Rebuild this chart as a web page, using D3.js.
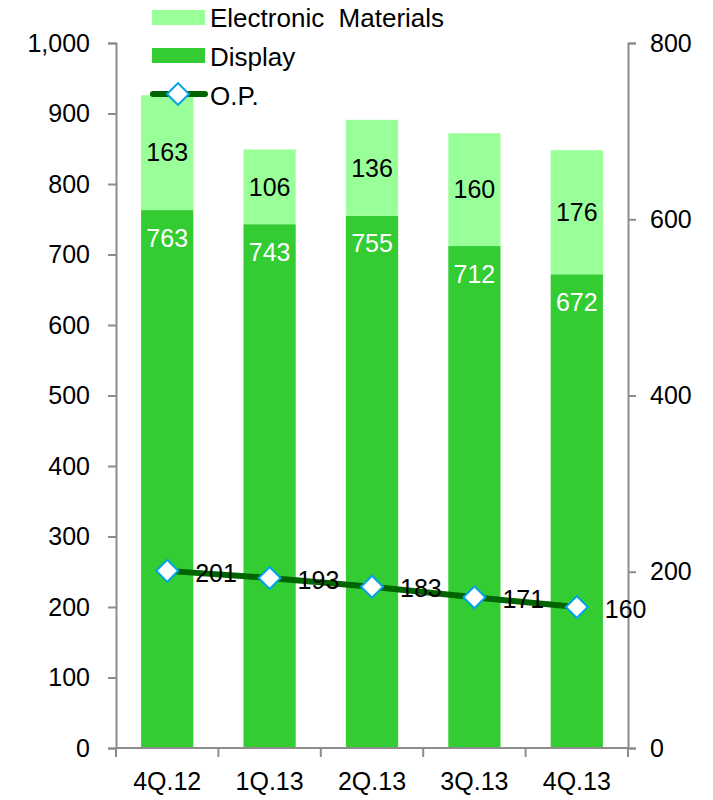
<!DOCTYPE html>
<html>
<head>
<meta charset="utf-8">
<script src="https://cdn.jsdelivr.net/npm/d3@7"></script>
<style>
  body { margin: 0; background: #fff; }
  text { font-family: "Liberation Sans", Arial, sans-serif; }
</style>
</head>
<body>
<svg width="713" height="800"></svg>
<script>
var quarters = ["4Q.12", "1Q.13", "2Q.13", "3Q.13", "4Q.13"];
var display = [763, 743, 755, 712, 672];
var electronic = [163, 106, 136, 160, 176];
var op = [201, 193, 183, 171, 160];
var leftTicks = [0, 100, 200, 300, 400, 500, 600, 700, 800, 900, 1000];
var rightTicks = [0, 200, 400, 600, 800];

var svg = d3.select("svg");
var margin = {top: 43, left: 116, right: 85, bottom: 52},
    width = 713 - margin.left - margin.right,
    height = 800 - margin.top - margin.bottom;
var g = svg.append("g").attr("transform", "translate(" + margin.left + "," + margin.top + ")");

var x = d3.scaleBand().domain(quarters).range([0, width]).paddingInner(0.49).paddingOuter(0.245);
var y = d3.scaleLinear().domain([0, 1000]).range([height, 0]);
var y2 = d3.scaleLinear().domain([0, 800]).range([height, 0]);

var axisColor = "#8c8c8c";
var fs = 25;

// left axis
var la = g.append("g").call(d3.axisLeft(y).tickValues(leftTicks).tickSize(8).tickPadding(18).tickFormat(d3.format(",")));
// right axis
var ra = g.append("g").attr("transform", "translate(" + width + ",0)")
    .call(d3.axisRight(y2).tickValues(rightTicks).tickSize(8).tickPadding(14));
[la, ra].forEach(function(a){
    a.select(".domain").attr("stroke", axisColor).attr("stroke-width", 2);
    a.selectAll(".tick line").attr("stroke", axisColor).attr("stroke-width", 2);
    a.selectAll("text").attr("font-size", fs).attr("fill", "#000").style("font-family", "Liberation Sans, Arial, sans-serif");
});

// bars
var groups = g.append("g").selectAll("g").data(quarters).enter().append("g");
groups.append("rect")
    .attr("x", function(d){ return x(d); })
    .attr("width", x.bandwidth())
    .attr("y", function(d, i){ return y(display[i]); })
    .attr("height", function(d, i){ return y(0) - y(display[i]); })
    .attr("fill", "#33cc33");
groups.append("rect")
    .attr("x", function(d){ return x(d); })
    .attr("width", x.bandwidth())
    .attr("y", function(d, i){ return y(display[i] + electronic[i]); })
    .attr("height", function(d, i){ return y(display[i]) - y(display[i] + electronic[i]); })
    .attr("fill", "#99ff99");

// bar labels
groups.append("text")
    .attr("x", function(d){ return x(d) + x.bandwidth() / 2; })
    .attr("y", function(d, i){ return y(display[i]) + 28; })
    .attr("text-anchor", "middle").attr("dy", "0.35em")
    .attr("font-size", fs).attr("fill", "#fff")
    .text(function(d, i){ return display[i]; });
groups.append("text")
    .attr("x", function(d){ return x(d) + x.bandwidth() / 2; })
    .attr("y", function(d, i){ return y(display[i] + electronic[i] / 2); })
    .attr("text-anchor", "middle").attr("dy", "0.35em")
    .attr("font-size", fs).attr("fill", "#000")
    .text(function(d, i){ return electronic[i]; });

// x axis
var xa = g.append("g").attr("transform", "translate(0," + height + ")");
xa.append("line").attr("x1", 0).attr("x2", width).attr("stroke", axisColor).attr("stroke-width", 2);
var xTickPos = d3.range(quarters.length + 1).map(function(i){ return i * width / quarters.length; });
xa.selectAll(".xt").data(xTickPos).enter().append("line")
    .attr("x1", function(d){ return d; }).attr("x2", function(d){ return d; })
    .attr("y1", 0).attr("y2", 9).attr("stroke", axisColor).attr("stroke-width", 2);
xa.selectAll(".xl").data(quarters).enter().append("text")
    .attr("x", function(d){ return x(d) + x.bandwidth() / 2; })
    .attr("y", 33).attr("dy", "0.35em").attr("text-anchor", "middle")
    .attr("font-size", fs).text(function(d){ return d; });

// O.P. line
var line = d3.line()
    .x(function(d, i){ return x(quarters[i]) + x.bandwidth() / 2; })
    .y(function(d){ return y2(d); });
g.append("path").datum(op).attr("d", line)
    .attr("fill", "none").attr("stroke", "#006400").attr("stroke-width", 6);
var diamond = d3.symbol().type(d3.symbolSquare).size(240);
g.selectAll(".mk").data(op).enter().append("path")
    .attr("d", diamond)
    .attr("transform", function(d, i){ return "translate(" + (x(quarters[i]) + x.bandwidth() / 2) + "," + y2(d) + ") rotate(45)"; })
    .attr("fill", "#fff").attr("stroke", "#00a2e8").attr("stroke-width", 2);
g.selectAll(".opl").data(op).enter().append("text")
    .attr("x", function(d, i){ return x(quarters[i]) + x.bandwidth() / 2 + 28; })
    .attr("y", function(d){ return y2(d) + 2; })
    .attr("dy", "0.35em").attr("font-size", fs)
    .text(function(d){ return d; });

// legend
var lg = svg.append("g");
lg.append("rect").attr("x", 152).attr("y", 10).attr("width", 53).attr("height", 15).attr("fill", "#99ff99");
lg.append("text").attr("x", 210).attr("y", 18).attr("dy", "0.35em").attr("font-size", 26).attr("xml:space", "preserve").text("Electronic  Materials");
lg.append("rect").attr("x", 152).attr("y", 48).attr("width", 53).attr("height", 15).attr("fill", "#33cc33");
lg.append("text").attr("x", 210).attr("y", 57).attr("dy", "0.35em").attr("font-size", 26).text("Display");
lg.append("line").attr("x1", 153).attr("x2", 205).attr("y1", 94).attr("y2", 94)
    .attr("stroke", "#006400").attr("stroke-width", 6).attr("stroke-linecap", "round");
lg.append("path").attr("d", diamond).attr("transform", "translate(178,94) rotate(45)")
    .attr("fill", "#fff").attr("stroke", "#00a2e8").attr("stroke-width", 2);
lg.append("text").attr("x", 210).attr("y", 96).attr("dy", "0.35em").attr("font-size", 26).text("O.P.");
</script>
</body>
</html>
